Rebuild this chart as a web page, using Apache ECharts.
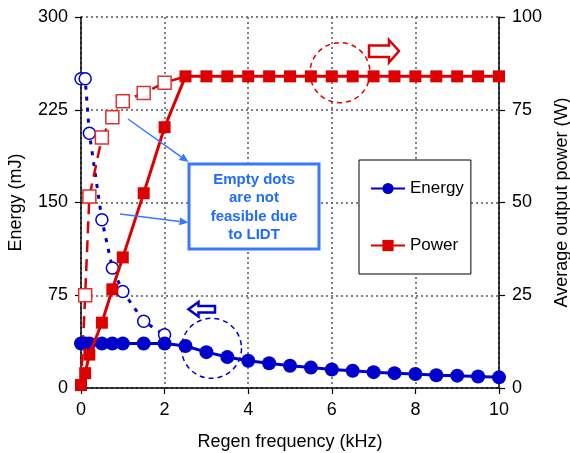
<!DOCTYPE html>
<html>
<head>
<meta charset="utf-8">
<script src="https://cdn.jsdelivr.net/npm/echarts@6/dist/echarts.min.js"></script>
<style>
    html, body { margin: 0; padding: 0; background: #fff; }
    #chart { width: 570px; height: 453px; }
</style>
</head>
<body>
<div id="chart"></div>
<script>
(function () {
    'use strict';

    // measured points (kHz)
    var freq = [0, 0.1, 0.2, 0.5, 0.75, 1, 1.5, 2, 2.5, 3, 3.5, 4, 4.5, 5, 5.5, 6, 6.5, 7, 7.5, 8, 8.5, 9, 9.5, 10];
    var energy = [36, 36, 36, 36, 36, 36, 36, 36, 34, 29, 25, 22, 20, 18, 16.5, 15, 14, 12.8, 12, 11.3, 10.3, 10, 9.3, 8.6];
    var power = [0.8, 4, 9, 17.6, 26.6, 35.2, 52.5, 70.3, 84, 84, 84, 84, 84, 84, 84, 84, 84, 84, 84, 84, 84, 84, 84, 84];

    // empty dots: not feasible due to LIDT
    var freqEmptyE = [0, 0.1, 0.2, 0.5, 0.75, 1, 1.5, 2];
    var energyEmpty = [250, 250, 206, 136, 97, 78, 54, 43];
    var freqEmptyP = [0, 0.1, 0.2, 0.5, 0.75, 1, 1.5, 2, 2.5];
    var powerEmpty = [0.8, 25, 51.6, 67.5, 73, 77.3, 79.5, 82.3, 84];

    var xTicks = [0, 10, 2];
    var energyTicks = [0, 300, 75];
    var powerTicks = [0, 100, 25];

    var FONT = '"Liberation Sans", Arial, sans-serif';
    var BLUE = '#0000cc';
    var RED = '#dd0000';
    var NOTE = '#3a78ff';

    function pairs(xs, ys) {
        return xs.map(function (x, i) { return [x, ys[i]]; });
    }

    // arrow line with filled head, pixel coords
    function pointer(x1, y1, x2, y2) {
        var dx = x2 - x1, dy = y2 - y1;
        var len = Math.sqrt(dx * dx + dy * dy);
        var ux = dx / len, uy = dy / len;
        var bx = x2 - ux * 9, by = y2 - uy * 9;
        var px = -uy * 4, py = ux * 4;
        return [{
            type: 'line',
            shape: { x1: x1, y1: y1, x2: bx, y2: by },
            style: { stroke: NOTE, lineWidth: 1.5 },
            z: 100
        }, {
            type: 'polygon',
            shape: { points: [[x2, y2], [bx + px, by + py], [bx - px, by - py]] },
            style: { fill: NOTE },
            z: 100
        }];
    }

    var axisLine = { show: true, lineStyle: { color: '#000', width: 1.5 } };
    var axisTick = { show: true, inside: false, length: 6, lineStyle: { color: '#000', width: 1.2 } };
    var axisLabel = { color: '#000', fontSize: 18, fontFamily: FONT, margin: 13 };
    var gridLine = { show: true, lineStyle: { color: '#555', type: [2, 3], width: 1.5 } };
    var nameStyle = { color: '#000', fontSize: 18, fontFamily: FONT };

    var powerEmptyData = pairs(freqEmptyP, powerEmpty).map(function (p, i) {
        if (i === 0 || i === freqEmptyP.length - 1) {
            return { value: p, symbol: 'none' };
        }
        return p;
    });

    var graphics = [];
    graphics = graphics.concat(pointer(128, 119, 188.5, 162));
    graphics = graphics.concat(pointer(120, 214, 188.5, 222.5));
    graphics.push({
        type: 'rect',
        shape: { x: 189, y: 164, width: 130, height: 85 },
        style: { fill: '#fff', stroke: NOTE, lineWidth: 3 },
        z: 100
    });
    graphics.push({
        type: 'text',
        x: 254, y: 207.5,
        style: {
            text: 'Empty dots\nare not\nfeasible due\nto LIDT',
            align: 'center', verticalAlign: 'middle',
            fontSize: 15, fontWeight: 'bold', fontFamily: FONT,
            lineHeight: 18.3, fill: '#1f6cff'
        },
        z: 101
    });
    // dashed circles around the two curves
    graphics.push({
        type: 'circle',
        shape: { cx: 340, cy: 72.7, r: 30 },
        style: { fill: 'none', stroke: RED, lineWidth: 1.5, lineDash: [5, 4] },
        z: 100
    });
    graphics.push({
        type: 'circle',
        shape: { cx: 211.5, cy: 348.3, r: 30 },
        style: { fill: 'none', stroke: BLUE, lineWidth: 1.5, lineDash: [5, 4] },
        z: 100
    });
    // hollow arrows pointing at their axes
    graphics.push({
        type: 'polygon',
        shape: { points: [[369, 45.5], [389, 45.5], [389, 40], [399, 51], [389, 62.5], [389, 57], [369, 57]] },
        style: { fill: '#fff', stroke: RED, lineWidth: 2.5 },
        z: 100
    });
    graphics.push({
        type: 'polygon',
        shape: { points: [[215, 306], [198.5, 306], [198.5, 302], [188.5, 309.3], [198.5, 316.5], [198.5, 312.5], [215, 312.5]] },
        style: { fill: '#fff', stroke: BLUE, lineWidth: 2.5 },
        z: 100
    });

    var chart = echarts.init(document.getElementById('chart'));
    chart.setOption({
        animation: false,
        backgroundColor: '#fff',
        grid: { left: 81, right: 71, top: 17, bottom: 65, containLabel: false, outerBoundsMode: 'none' },
        legend: {
            data: ['Energy', 'Power'],
            orient: 'vertical',
            left: 359, top: 160,
            padding: [20, 7, 20, 11],
            itemGap: 40,
            itemWidth: 34, itemHeight: 14,
            backgroundColor: '#fff',
            borderColor: '#000', borderWidth: 1,
            textStyle: { color: '#000', fontSize: 17, fontFamily: FONT }
        },
        xAxis: {
            type: 'value',
            min: xTicks[0], max: xTicks[1], interval: xTicks[2],
            name: 'Regen frequency (kHz)',
            nameLocation: 'middle', nameGap: 45,
            nameTextStyle: nameStyle,
            axisLine: axisLine, axisTick: axisTick, axisLabel: axisLabel,
            splitLine: gridLine
        },
        yAxis: [{
            type: 'value',
            min: energyTicks[0], max: energyTicks[1], interval: energyTicks[2],
            name: 'Energy (mJ)',
            nameLocation: 'middle', nameGap: 56, nameRotate: 90,
            nameTextStyle: nameStyle,
            axisLine: axisLine, axisTick: axisTick, axisLabel: axisLabel,
            splitLine: gridLine
        }, {
            type: 'value',
            position: 'right',
            min: powerTicks[0], max: powerTicks[1], interval: powerTicks[2],
            name: 'Average output power (W)',
            nameLocation: 'middle', nameGap: 54, nameRotate: 90,
            nameTextStyle: nameStyle,
            axisLine: axisLine, axisTick: axisTick, axisLabel: axisLabel,
            splitLine: { show: false }
        }],
        series: [{
            name: 'Energy (LIDT)',
            type: 'line',
            yAxisIndex: 0,
            data: pairs(freqEmptyE, energyEmpty),
            symbol: 'circle', symbolSize: 12,
            itemStyle: { color: '#fff', borderColor: BLUE, borderWidth: 1.5 },
            lineStyle: { color: BLUE, width: 3, type: [4, 7] },
            z: 2
        }, {
            name: 'Power (LIDT)',
            type: 'line',
            yAxisIndex: 1,
            data: powerEmptyData,
            symbol: 'rect', symbolSize: 13,
            itemStyle: { color: '#fff', borderColor: '#e23030', borderWidth: 1.5 },
            lineStyle: { color: RED, width: 2.5, type: [12, 7] },
            z: 3
        }, {
            name: 'Energy',
            type: 'line',
            yAxisIndex: 0,
            data: pairs(freq, energy),
            symbol: 'circle', symbolSize: 14,
            itemStyle: { color: BLUE },
            lineStyle: { color: BLUE, width: 3 },
            z: 4
        }, {
            name: 'Power',
            type: 'line',
            yAxisIndex: 1,
            data: pairs(freq, power),
            symbol: 'rect', symbolSize: 12,
            itemStyle: { color: RED },
            lineStyle: { color: RED, width: 3 },
            z: 5
        }],
        graphic: graphics
    });
})();
</script>
</body>
</html>
